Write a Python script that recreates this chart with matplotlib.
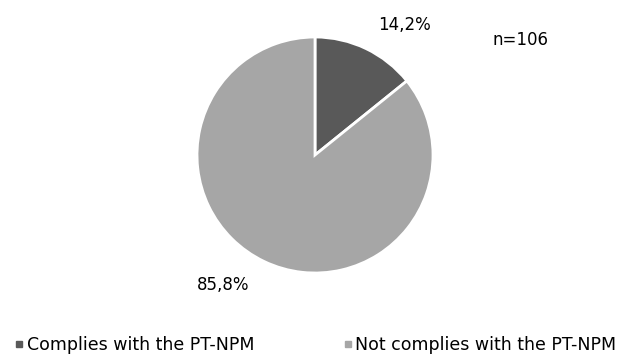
import matplotlib
matplotlib.use("Agg")
import matplotlib.pyplot as plt
from matplotlib.lines import Line2D

categories = ["Complies with the PT-NPM", "Not complies with the PT-NPM"]
shares = [14.2, 85.8]
share_labels = ["14,2%", "85,8%"]
colors = ["#595959", "#a6a6a6"]
sample_note = "n=106"

plt.rcParams["font.family"] = ["DejaVu Sans"]

fig = plt.figure(figsize=(6.3, 3.56), dpi=100)
ax = fig.add_axes([0.5 - 0.1873, 0.5646 - 0.3315, 0.3746, 0.663])
wedges, _ = ax.pie(shares, colors=colors, startangle=90, counterclock=False,
                   wedgeprops=dict(edgecolor="white", linewidth=2))
ax.set_aspect("equal")
ax.set_xlim(-1, 1)
ax.set_ylim(-1, 1)

# value labels placed outside the pie
fig.text(404 / 630, 1 - 25 / 356, share_labels[0], ha="center", va="center", fontsize=12)
fig.text(223 / 630, 1 - 285 / 356, share_labels[1], ha="center", va="center", fontsize=12)
fig.text(520 / 630, 1 - 40 / 356, sample_note, ha="center", va="center", fontsize=12)

handles = [Line2D([], [], marker="s", linestyle="none", markersize=5,
                  markerfacecolor=c, markeredgecolor=c) for c in colors]
fig.legend(handles, categories, loc="center", bbox_to_anchor=(0.5, 1 - 345 / 356),
           ncol=2, frameon=False, fontsize=12.5, handletextpad=0.1,
           columnspacing=5.0, handlelength=0.7, borderpad=0)

fig.savefig("out.png", dpi=100)
